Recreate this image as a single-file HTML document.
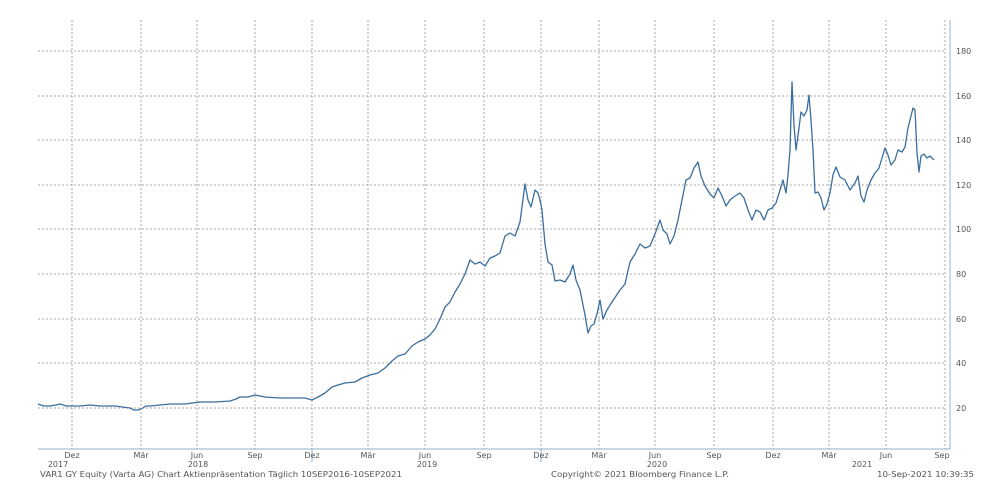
<!DOCTYPE html>
<html><head><meta charset="utf-8"><style>
html,body{margin:0;padding:0;background:#fff;}
svg{display:block;font-family:"DejaVu Sans","Liberation Sans",sans-serif;}
</style></head><body>
<svg width="1000" height="500" viewBox="0 0 1000 500" xmlns="http://www.w3.org/2000/svg">
<rect width="1000" height="500" fill="#fff"/>
<g stroke="#aaa" stroke-width="1" stroke-dasharray="2,2">
<line x1="38" y1="408" x2="946" y2="408"/>
<line x1="38" y1="363" x2="946" y2="363"/>
<line x1="38" y1="319" x2="946" y2="319"/>
<line x1="38" y1="274" x2="946" y2="274"/>
<line x1="38" y1="229" x2="946" y2="229"/>
<line x1="38" y1="185" x2="946" y2="185"/>
<line x1="38" y1="140" x2="946" y2="140"/>
<line x1="38" y1="96" x2="946" y2="96"/>
<line x1="38" y1="51" x2="946" y2="51"/>
<line x1="72" y1="20" x2="72" y2="449"/>
<line x1="141" y1="20" x2="141" y2="449"/>
<line x1="197" y1="20" x2="197" y2="449"/>
<line x1="255" y1="20" x2="255" y2="449"/>
<line x1="312" y1="20" x2="312" y2="449"/>
<line x1="368" y1="20" x2="368" y2="449"/>
<line x1="425" y1="20" x2="425" y2="449"/>
<line x1="484" y1="20" x2="484" y2="449"/>
<line x1="541" y1="20" x2="541" y2="449"/>
<line x1="599" y1="20" x2="599" y2="449"/>
<line x1="655" y1="20" x2="655" y2="449"/>
<line x1="714" y1="20" x2="714" y2="449"/>
<line x1="773" y1="20" x2="773" y2="449"/>
<line x1="829" y1="20" x2="829" y2="449"/>
<line x1="886" y1="20" x2="886" y2="449"/>
<line x1="945" y1="20" x2="945" y2="449"/>
</g>
<g stroke="#8fb3cf" stroke-width="1">
<line x1="38" y1="449" x2="950" y2="449"/>
<line x1="950" y1="20" x2="950" y2="449"/>
<line x1="312" y1="449" x2="312" y2="462"/>
<line x1="541" y1="449" x2="541" y2="462"/>
</g>
<g fill="#555" font-size="8">
<text x="956" y="411">20</text><text x="956" y="366">40</text><text x="956" y="322">60</text>
<text x="956" y="277">80</text><text x="956" y="232">100</text><text x="956" y="188">120</text>
<text x="956" y="143">140</text><text x="956" y="99">160</text><text x="956" y="54">180</text>
</g>
<g fill="#555" font-size="8" text-anchor="middle">
<text x="72" y="458">Dez</text><text x="141" y="458">Mär</text><text x="197" y="458">Jun</text><text x="255" y="458">Sep</text>
<text x="312" y="458">Dez</text><text x="368" y="458">Mär</text><text x="425" y="458">Jun</text><text x="484" y="458">Sep</text>
<text x="541" y="458">Dez</text><text x="599" y="458">Mär</text><text x="655" y="458">Jun</text><text x="714" y="458">Sep</text>
<text x="773" y="458">Dez</text><text x="829" y="458">Mär</text><text x="886" y="458">Jun</text><text x="942" y="458">Sep</text>
<text x="58" y="467">2017</text><text x="198" y="467">2018</text><text x="427" y="467">2019</text><text x="657" y="467">2020</text><text x="862" y="467">2021</text>
</g>
<g fill="#555" font-size="7.5">
<text x="40" y="477" textLength="362" lengthAdjust="spacingAndGlyphs">VAR1 GY Equity (Varta AG) Chart Aktienpräsentation  Täglich 10SEP2016-10SEP2021</text>
<text x="551" y="477" textLength="178" lengthAdjust="spacingAndGlyphs">Copyright© 2021 Bloomberg Finance L.P.</text>
<text x="877" y="477" textLength="97" lengthAdjust="spacingAndGlyphs">10-Sep-2021 10:39:35</text>
</g>
<polyline fill="none" stroke="#3a6e9e" stroke-width="1.3" stroke-linejoin="round" points="
38,404 44,406 50,406 56,405 60,404 66,406 72,406 80,406 90,405 100,406 115,406 130,408 134,410 138,410 141,409 146,406 150,406 160,405 170,404 185,404 200,402 215,402 230,401 236,399 240,397 248,397 255,395 265,397 280,398 295,398 305,398 312,400 318,397 325,393 332,387 338,385 345,383 355,382 362,378 370,375 378,373 385,368 392,361 398,356 405,354 412,346 418,342 425,339 430,335 435,329 440,319 445,307 450,302 455,292 460,284 465,274 470,260 475,264 480,262 485,266 490,258 495,256 500,253 505,236 510,233 515,236 520,222 525,184 528,200 531,207 535,190 538,193 540,200 542,210 545,244 548,262 552,265 555,281 560,280 565,282 570,274 573,265 576,280 580,290 585,315 588,333 591,326 594,324 597,314 600,300 603,319 607,310 612,302 616,296 620,290 625,284 630,262 635,254 640,244 645,248 650,246 655,234 660,220 663,230 667,234 670,244 674,236 678,220 682,200 686,180 690,178 694,168 698,162 701,176 705,186 710,194 714,198 718,188 722,196 726,206 730,200 735,196 740,193 744,198 748,210 752,220 756,210 760,212 764,220 768,210 772,208 776,203 780,190 783,180 786,193 788,175 790,150 792,82 794,125 796,150 799,128 801,112 804,116 807,110 809,95 811,120 813,150 815,193 818,192 821,198 824,210 827,204 830,193 833,175 836,167 840,177 845,180 850,190 855,183 858,176 861,196 864,202 867,190 871,180 875,173 879,168 882,158 885,148 888,155 891,165 895,160 898,150 902,152 905,147 908,128 911,116 913,108 915,110 917,153 919,172 921,156 924,154 927,158 930,156 934,160"/>
</svg>
</body></html>
